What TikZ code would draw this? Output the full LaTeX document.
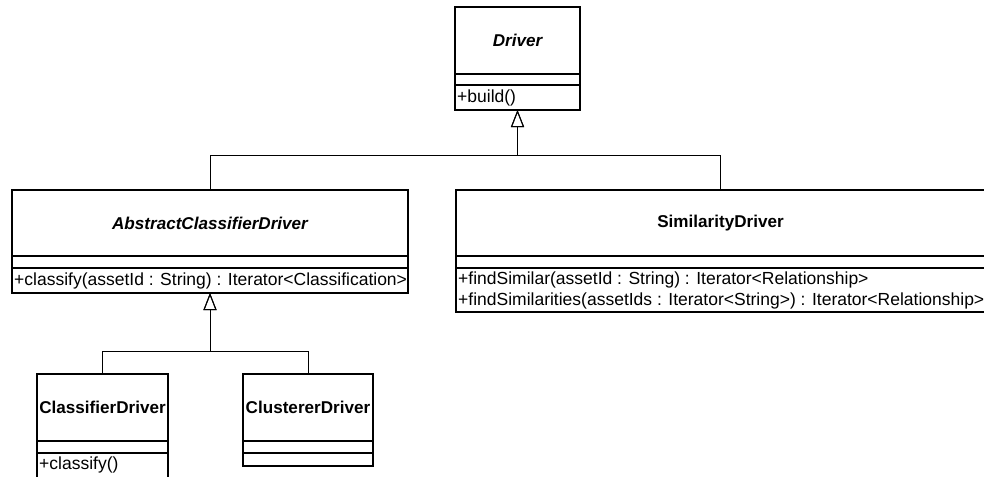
\documentclass[tikz,border=0pt]{standalone}
\usepackage{fontspec}
\setmainfont{Liberation Sans}
\usetikzlibrary{arrows.meta}
\begin{document}
\begin{tikzpicture}[x=1pt,y=-1pt,
  classbox/.style={draw, line width=1.7pt, rectangle, inner sep=0pt, outer sep=0pt, anchor=north west},
  divider/.style={line width=1.7pt},
  title/.style={inner sep=0pt, font=\fontsize{17.1}{21}\selectfont\bfseries},
  abstitle/.style={inner sep=0pt, font=\fontsize{17.1}{21}\selectfont\bfseries\itshape},
  member/.style={inner sep=0pt, anchor=west, font=\fontsize{17.5}{21}\selectfont},
  generalize/.style={line width=1pt, -{Triangle[open, length=17pt, width=13pt, line width=1pt]}}
]
\clip (0,0) rectangle (984,476);
\fill[white] (0,0) rectangle (984,476);

% Driver (abstract root)
\node[classbox, minimum width=125pt, minimum height=103pt] (driver) at (455,7) {};
\draw[divider] (455,74) -- (580,74);
\draw[divider] (455,85) -- (580,85);
\node[abstitle] (drivername) at (517.5,40.5) {Driver};
\node[member] (driverbuild) at (457,97.5) {+build()};

% AbstractClassifierDriver
\node[classbox, minimum width=396pt, minimum height=103pt] (absdrv) at (12,190) {};
\draw[divider] (12,256) -- (408,256);
\draw[divider] (12,268) -- (408,268);
\node[abstitle] (absdrvname) at (210,223) {AbstractClassifierDriver};
\node[member] (absclassify) at (14,280.5) {+classify(assetId : String) : Iterator<Classification>};

% SimilarityDriver
\node[classbox, minimum width=529pt, minimum height=122pt] (simdrv) at (456,190) {};
\draw[divider] (456,256) -- (985,256);
\draw[divider] (456,268) -- (985,268);
\node[title] (simdrvname) at (720.5,223) {SimilarityDriver};
\node[member] (findsim) at (458,279.5) {+findSimilar(assetId : String) : Iterator<Relationship>};
\node[member] (findsims) at (458,301) {+findSimilarities(assetIds : Iterator<String>) : Iterator<Relationship>};

% ClassifierDriver
\node[classbox, minimum width=131pt, minimum height=110pt] (clsdrv) at (37,374) {};
\draw[divider] (37,441) -- (168,441);
\draw[divider] (37,453) -- (168,453);
\node[title] (clsdrvname) at (102.5,407.5) {ClassifierDriver};
\node[member] (clsclassify) at (39,464.5) {+classify()};

% ClustererDriver
\node[classbox, minimum width=130pt, minimum height=92pt] (cludrv) at (243,374) {};
\draw[divider] (243,441) -- (373,441);
\draw[divider] (243,453) -- (373,453);
\node[title] (cludrvname) at (308,407.5) {ClustererDriver};

% Generalization connectors
\coordinate (jtop) at (517.5,155);
\coordinate (jlow) at (210,351);
\draw[generalize] (absdrv.north) |- (jtop) -- (driver.south);
\draw[generalize] (simdrv.north) |- (jtop) -- (driver.south);
\draw[generalize] (clsdrv.north) |- (jlow) -- (absdrv.south);
\draw[generalize] (cludrv.north) |- (jlow) -- (absdrv.south);
\end{tikzpicture}
\end{document}
